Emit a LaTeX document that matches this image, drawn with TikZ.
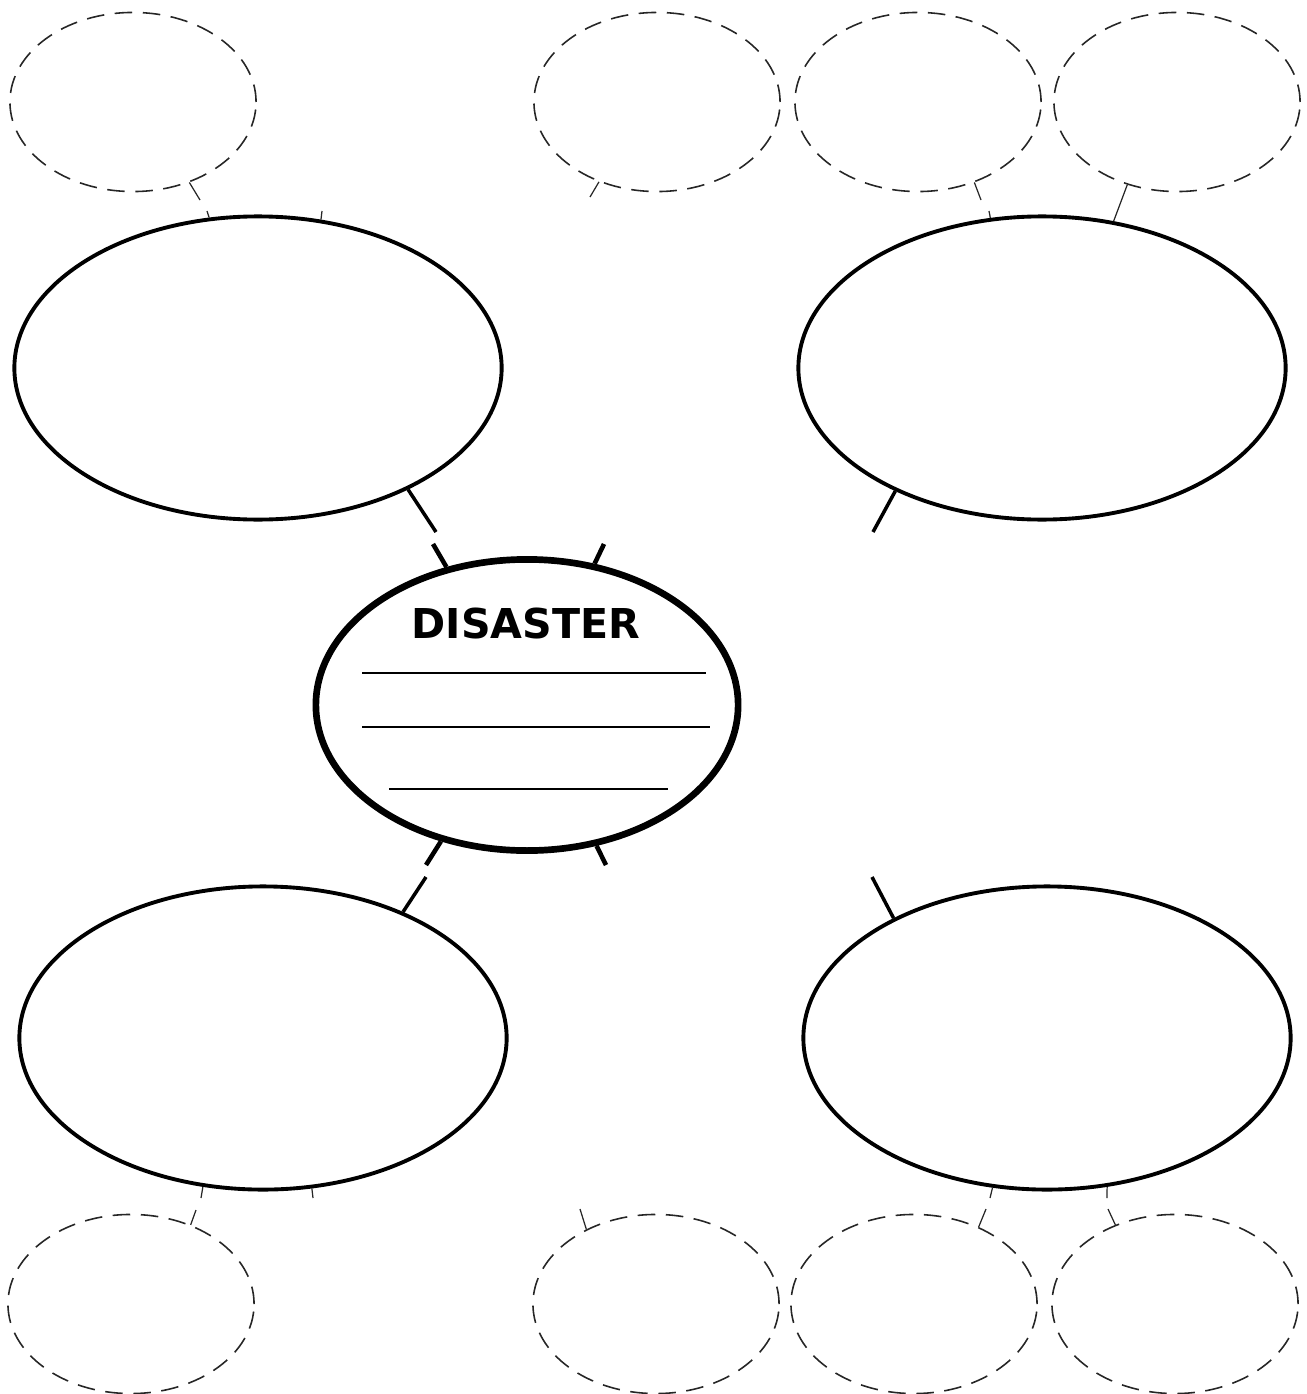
\documentclass[tikz,border=0pt]{standalone}
\usepackage{fontspec}
\usepackage{tikz}
\usetikzlibrary{shapes.geometric}
\newfontfamily\titlefont{DejaVu Sans}

\begin{document}
\begin{tikzpicture}[x=0.01cm, y=-0.01cm,
  bigbubble/.style={draw, ellipse, line width=1.1pt, minimum width=4.87cm, minimum height=3.03cm, inner sep=0pt},
  smallbubble/.style={draw=black!85, ellipse, line width=0.45pt, dash pattern=on 5pt off 3pt, minimum width=2.46cm, minimum height=1.79cm, inner sep=0pt},
  hubbubble/.style={draw, ellipse, line width=1.9pt, minimum width=4.22cm, minimum height=2.91cm, inner sep=0pt},
  bigline/.style={line width=1pt},
  spur/.style={line width=1.3pt},
  thinline/.style={draw=black!85, line width=0.35pt},
  writeline/.style={line width=0.55pt}]
\useasboundingbox (0,0) rectangle (1307,1394);

\node[smallbubble] (small_t1) at (133,102) {};
\node[smallbubble] (small_t2) at (657,102) {};
\node[smallbubble] (small_t3) at (918,102) {};
\node[smallbubble] (small_t4) at (1177,102) {};
\node[smallbubble] (small_b1) at (131,1304) {};
\node[smallbubble] (small_b2) at (656,1304) {};
\node[smallbubble] (small_b3) at (914,1304) {};
\node[smallbubble] (small_b4) at (1175,1304) {};

\node[bigbubble] (big_ul) at (258,368) {};
\node[bigbubble] (big_ur) at (1042,368) {};
\node[bigbubble] (big_ll) at (263,1038) {};
\node[bigbubble] (big_lr) at (1047,1038) {};

\node[hubbubble] (hub) at (527,705) {};
\node[font={\titlefont\bfseries\fontsize{11.7pt}{14pt}\selectfont}, anchor=base, inner sep=0pt] (title) at (526,638) {DISASTER};
\draw[writeline] (362,673) -- (706,673);
\draw[writeline] (362,727) -- (710,727);
\draw[writeline] (389,789) -- (668,789);

\coordinate (cut_ul) at (436,532);
\coordinate (cut_ur) at (873,532);
\coordinate (cut_ll) at (426,877);
\coordinate (cut_lr) at (872,877);
\coordinate (cut_hub_a) at (433,544);
\coordinate (cut_hub_b) at (604,544);
\coordinate (cut_hub_c) at (426,865);
\coordinate (cut_hub_d) at (606,865);

\draw[bigline] (big_ul.-39) -- (cut_ul);
\draw[bigline] (big_ur.-140) -- (cut_ur);
\draw[bigline] (big_ll.42) -- (cut_ll);
\draw[bigline] (big_lr.142) -- (cut_lr);
\draw[spur] (hub) -- (cut_hub_a);
\draw[spur] (hub) -- (cut_hub_b);
\draw[spur] (hub) -- (cut_hub_c);
\draw[spur] (hub) -- (cut_hub_d);

\coordinate (cut_t1) at (200,200);
\coordinate (cut_ul_a) at (207,211);
\coordinate (cut_ul_b) at (322,211);
\coordinate (cut_t2) at (590,197);
\coordinate (cut_t3) at (981,200);
\coordinate (cut_ur_a) at (989,211);
\coordinate (cut_ll_a) at (201,1198);
\coordinate (cut_ll_b) at (313,1198);
\coordinate (cut_b1) at (196,1210);
\coordinate (cut_b2) at (580,1209);
\coordinate (cut_lr_a) at (990,1198);
\coordinate (cut_lr_b) at (1107,1198);
\coordinate (cut_b3) at (986,1209);
\coordinate (cut_b4) at (1108,1209);

\draw[thinline] (small_t1.-55) -- (cut_t1);
\draw[thinline] (big_ul.108) -- (cut_ul_a);
\draw[thinline] (big_ul.67) -- (cut_ul_b);
\draw[thinline] (small_t2.-126) -- (cut_t2);
\draw[thinline] (small_t3.-55) -- (cut_t3);
\draw[thinline] (big_ur.109) -- (cut_ur_a);
\draw[thinline] (small_t4.-121) -- (big_ur.64);
\draw[thinline] (big_ll.-112) -- (cut_ll_a);
\draw[thinline] (big_ll.-72) -- (cut_ll_b);
\draw[thinline] (small_b1.53) -- (cut_b1);
\draw[thinline] (small_b2.133) -- (cut_b2);
\draw[thinline] (big_lr.-110) -- (cut_lr_a);
\draw[thinline] (big_lr.-68) -- (cut_lr_b);
\draw[thinline] (small_b3.50) -- (cut_b3);
\draw[thinline] (small_b4.127) -- (cut_b4);

\end{tikzpicture}
\end{document}
